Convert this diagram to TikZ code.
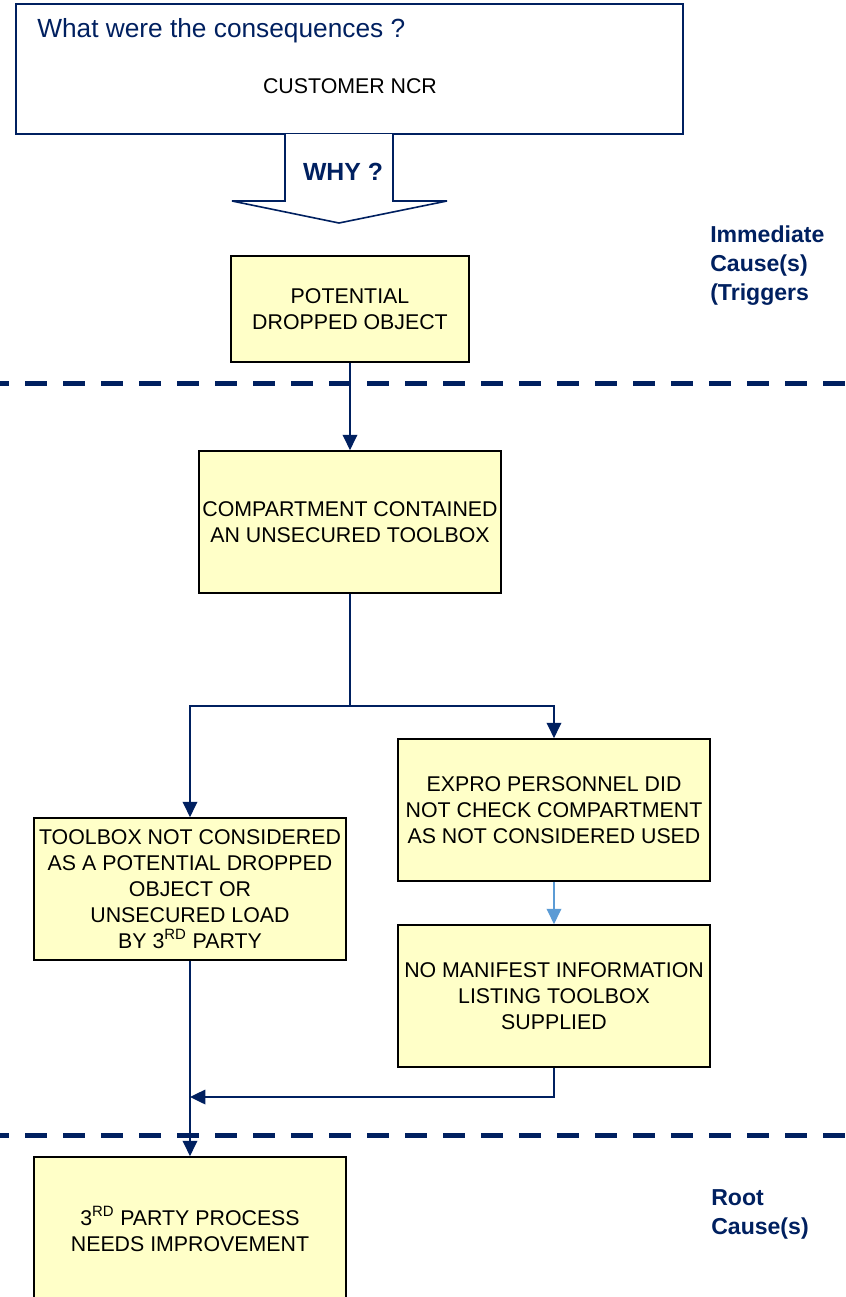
\documentclass[tikz,border=0pt]{standalone}
\usepackage{fontspec}
\setmainfont{Liberation Sans}
\usetikzlibrary{arrows.meta}
\definecolor{navy}{RGB}{0,32,96}
\definecolor{boxfill}{RGB}{255,255,200}
\definecolor{lblue}{RGB}{91,155,213}
\begin{document}
\begin{tikzpicture}[x=0.75pt,y=-0.75pt,
  cbox/.style={draw=black,line width=1.3pt,fill=boxfill,align=center,inner sep=0pt,
    font=\fontsize{16}{19.5}\selectfont},
  wh/.style 2 args={minimum width=#1*0.75pt,minimum height=#2*0.75pt},
  conn/.style={draw=navy,line width=1pt},
  arr/.style={conn,-{Triangle[length=11.5pt,width=11pt]}},
  lblarr/.style={draw=lblue,line width=1pt,-{Triangle[length=11.5pt,width=11pt]}},
  divider/.style={draw=navy,line width=3.75pt,dash pattern=on 16.5pt off 12pt,dash phase=9.75pt},
  side/.style={text=navy,font=\bfseries\fontsize{17.3}{21.75}\selectfont,align=left,anchor=west,inner sep=0pt}]
\useasboundingbox (0,0) rectangle (846,1297);

% top consequences box
\node[draw=navy,line width=1.2pt,fill=white,wh={667}{130},inner sep=0pt] (top) at (349.5,69) {};
\node[anchor=west,text=navy,font=\fontsize{19.7}{24}\selectfont,inner sep=0pt] (q) at (37,31) {What were the consequences ?};
\node[font=\fontsize{16}{19.5}\selectfont,inner sep=0pt] (ncr) at (350,86) {CUSTOMER NCR};

% WHY block arrow
\draw[draw=navy,line width=1.2pt,fill=white,line join=miter,miter limit=2] (285,134) -- (285,201) -- (232,201) -- (339,223) -- (447,201) -- (393,201) -- (393,134);
\node[text=navy,font=\bfseries\fontsize{18.6}{22}\selectfont,inner sep=0pt] (why) at (343,172) {WHY ?};

% side labels
\node[side] (imm) at (710,266) {Immediate\\Cause(s)\\(Triggers};
\node[side] (root) at (711,1214.5) {Root\\Cause(s)};

% dividers
\draw[divider] (0,383) -- (846,383);
\draw[divider] (0,1135) -- (846,1135);

% boxes
\node[cbox,wh={238}{106}] (b1) at (350,309) {POTENTIAL\\DROPPED OBJECT};
\node[cbox,wh={302}{142}] (b2) at (350,522) {COMPARTMENT CONTAINED\\AN UNSECURED TOOLBOX};
\node[cbox,wh={312}{142}] (b3) at (190,889) {TOOLBOX NOT CONSIDERED\\AS A POTENTIAL DROPPED\\OBJECT OR\\UNSECURED LOAD\\BY 3\textsuperscript{RD} PARTY};
\node[cbox,wh={312}{142}] (b4) at (554,810) {EXPRO PERSONNEL DID\\NOT CHECK COMPARTMENT\\AS NOT CONSIDERED USED};
\node[cbox,wh={312}{142}] (b5) at (554,996) {NO MANIFEST INFORMATION\\LISTING TOOLBOX\\SUPPLIED};
\node[cbox,wh={312}{160}] (b6) at (190,1237) {};
\node[font=\fontsize{16}{19.5}\selectfont,align=center,inner sep=0pt] (t6) at (190,1229) {3\textsuperscript{RD} PARTY PROCESS\\NEEDS IMPROVEMENT};

% connectors
\coordinate (j) at (350,706);
\coordinate (m) at (190,1097);
\draw[arr] (b1.south) -- (b2.north);
\draw[conn] (b2.south) -- (j);
\draw[arr] (j) -| (b3.north);
\draw[arr] (j) -| (b4.north);
\draw[lblarr] (b4.south) -- (b5.north);
\draw[arr] (b5.south) |- (m);
\draw[arr] (b3.south) -- (b6.north);
\end{tikzpicture}
\end{document}
